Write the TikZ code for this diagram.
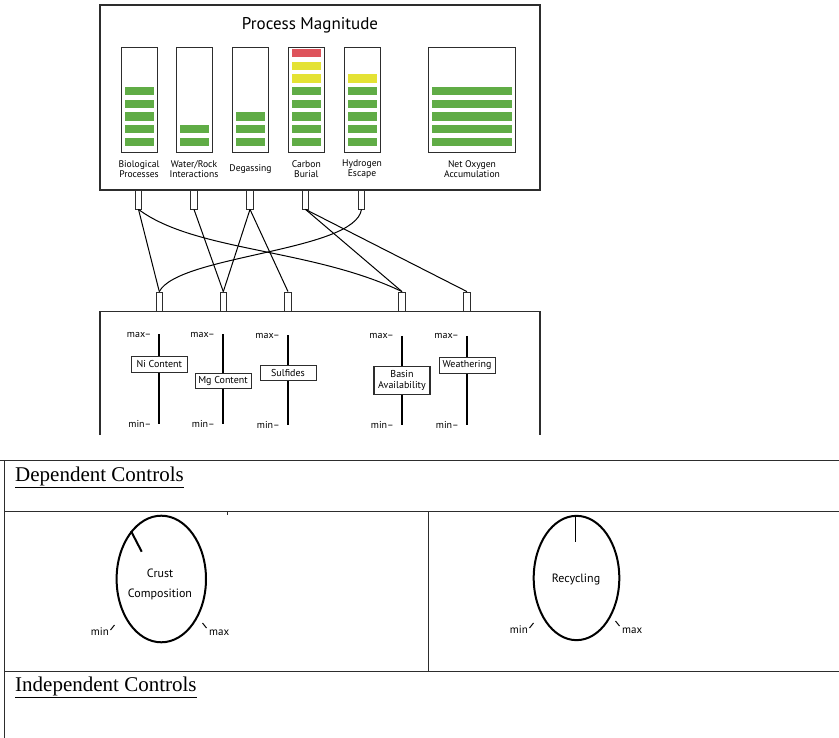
\documentclass[tikz,border=0pt]{standalone}
\usepackage{fontspec}
\setmainfont{Liberation Serif}
\newfontfamily\mys{PT Sans}
\usetikzlibrary{shapes.geometric}
\definecolor{bargreen}{RGB}{96,172,70}
\definecolor{baryellow}{RGB}{228,226,52}
\definecolor{barred}{RGB}{222,84,92}
\definecolor{edge}{RGB}{45,45,45}
\begin{document}
\begin{tikzpicture}[x=1pt,y=-1pt,
  panel/.style={draw=edge,line width=1.3pt},
  meter/.style={draw=edge,line width=0.9pt,inner sep=0,minimum height=105pt},
  tab/.style={draw=edge,fill=white,line width=0.8pt,inner sep=0,minimum width=6.5pt,minimum height=19pt},
  lbl/.style={font=\mys\fontsize{9.6}{10.5}\selectfont,align=center,inner sep=0},
  wire/.style={draw=black,line width=1pt},
  slider/.style={draw=black,line width=1.7pt},
  sbox/.style={draw=edge,fill=white,line width=1pt,inner sep=0,minimum width=56pt,font=\mys\fontsize{10}{10.5}\selectfont,align=center},
  mm/.style={font=\mys\fontsize{10}{10}\selectfont,inner sep=0,anchor=east},
  knob/.style={draw=black,line width=2pt,ellipse,inner sep=0},
  ktext/.style={font=\mys\fontsize{12}{20}\selectfont,align=center,inner sep=0},
  klbl/.style={font=\mys\fontsize{11}{12}\selectfont,inner sep=0},
  tick/.style={draw=black,line width=1pt},
  rule/.style={draw=edge,line width=0.9pt},
  head/.style={font=\fontsize{21}{24}\selectfont,inner sep=0,anchor=base west}]
\useasboundingbox (0,0) rectangle (839,738);

% ---------- top panel ----------
\draw[panel] (100,5) rectangle (540,190);
\node[font=\mys\fontsize{17}{20}\selectfont,inner sep=0] (title) at (310,25) {Process Magnitude};

\node[meter,minimum width=36pt] (m1) at (139,99.5) {};
\node[meter,minimum width=36pt] (m2) at (194,99.5) {};
\node[meter,minimum width=36pt] (m3) at (250.5,99.5) {};
\node[meter,minimum width=36pt] (m4) at (306.3,99.5) {};
\node[meter,minimum width=36pt] (m5) at (362,99.5) {};
\node[meter,minimum width=87.4pt] (m6) at (472,99.5) {};

\foreach \k in {0,...,4} \fill[bargreen] (124.5,137.7-12.67*\k) rectangle (153.5,146-12.67*\k);
\foreach \k in {0,1} \fill[bargreen] (179.5,137.7-12.67*\k) rectangle (208.5,146-12.67*\k);
\foreach \k in {0,1,2} \fill[bargreen] (236,137.7-12.67*\k) rectangle (265,146-12.67*\k);
\foreach \k in {0,...,4} \fill[bargreen] (291.8,137.7-12.67*\k) rectangle (320.8,146-12.67*\k);
\foreach \k in {5,6} \fill[baryellow] (291.8,137.7-12.67*\k) rectangle (320.8,146-12.67*\k);
\fill[barred] (291.8,137.7-12.67*7) rectangle (320.8,146-12.67*7);
\foreach \k in {0,...,4} \fill[bargreen] (347.5,137.7-12.67*\k) rectangle (376.5,146-12.67*\k);
\fill[baryellow] (347.5,137.7-12.67*5) rectangle (376.5,146-12.67*5);
\foreach \k in {0,...,4} \fill[bargreen] (431.7,137.7-12.67*\k) rectangle (512.3,146-12.67*\k);

\node[lbl] (l1) at (139,169.3) {Biological\\Processes};
\node[lbl] (l2) at (194,169.3) {Water/Rock\\Interactions};
\node[lbl] (l3) at (250.5,169.3) {Degassing};
\node[lbl] (l4) at (306.3,169.3) {Carbon\\Burial};
\node[lbl] (l5) at (362,169.3) {Hydrogen\\Escape};
\node[lbl] (l6) at (472,169.3) {Net Oxygen\\Accumulation};

% ---------- tabs ----------
\node[tab] (t1) at (138.5,199.5) {};
\node[tab] (t2) at (194,199.5) {};
\node[tab] (t3) at (250,199.5) {};
\node[tab] (t4) at (305.5,199.5) {};
\node[tab] (t5) at (361.5,199.5) {};

\node[tab] (b1) at (159.3,301.5) {};
\node[tab] (b2) at (223.3,301.5) {};
\node[tab] (b3) at (288,301.5) {};
\node[tab] (b4) at (402,301.5) {};
\node[tab] (b5) at (467,301.5) {};

% ---------- connectors ----------
\draw[wire] (t1.south) -- (b1.north);
\draw[wire] (t1.south) .. controls (195,251.7) and (311.7,248.3) .. (b4.north);
\draw[wire] (t2.south) -- (b2.north);
\draw[wire] (t3.south) -- (b2.north);
\draw[wire] (t3.south) -- (b3.north);
\draw[wire] (t4.south) -- (b4.north);
\draw[wire] (t4.south) -- (b5.north);
\draw[wire] (t5.south) .. controls (355,251.7) and (178.3,255) .. (b1.north);

% ---------- lower panel ----------
\draw[panel] (100,435) -- (100,311.7) -- (540,311.7) -- (540,435);

\coordinate (s1a) at (159.3,334.5); \coordinate (s1b) at (159.3,423.5);
\coordinate (s2a) at (222.8,334.5); \coordinate (s2b) at (222.8,423.5);
\coordinate (s3a) at (287.8,335.5); \coordinate (s3b) at (287.8,425);
\coordinate (s4a) at (401.7,336); \coordinate (s4b) at (401.7,425);
\coordinate (s5a) at (466.7,336); \coordinate (s5b) at (466.7,425);
\draw[slider] (s1a) -- (s1b);
\draw[slider] (s2a) -- (s2b);
\draw[slider] (s3a) -- (s3b);
\draw[slider] (s4a) -- (s4b);
\draw[slider] (s5a) -- (s5b);

\node[sbox,minimum height=15.6pt] (n1) at (159.3,364.5) {Ni Content};
\node[sbox,minimum height=15.7pt] (n2) at (223,381) {Mg Content};
\node[sbox,minimum height=15.3pt] (n3) at (288,373.3) {Sulfides};
\node[sbox,minimum height=27.6pt,line width=1.4pt] (n4) at (402,380.5) {Basin\\Availability};
\node[sbox,minimum height=16pt] (n5) at (467,365.3) {Weathering};

\node[mm] (x1) at (151.5,334.5) {max–};
\node[mm] (y1) at (151.5,423.5) {min–};
\node[mm] (x2) at (215,334.5) {max–};
\node[mm] (y2) at (215,423.5) {min–};
\node[mm] (x3) at (280,335.5) {max–};
\node[mm] (y3) at (280,425) {min–};
\node[mm] (x4) at (394,336) {max–};
\node[mm] (y4) at (394,425) {min–};
\node[mm] (x5) at (459,336) {max–};
\node[mm] (y5) at (459,425) {min–};

% ---------- table ----------
\draw[rule] (0,460) -- (839,460);
\draw[rule] (4.5,460) -- (4.5,738);
\draw[rule] (4.5,511) -- (839,511);
\draw[rule] (4.5,671) -- (839,671);
\draw[rule] (428,511) -- (428,671);
\draw[rule] (227,512) -- (227,515);

\node[head] (dep) at (15,481.5) {\underline{Dependent Controls}};
\node[head] (ind) at (15,691) {\underline{Independent Controls}};

% knob 1
\node[knob,minimum width=89.4pt,minimum height=126.6pt] (k1) at (161.3,579) {};
\node[ktext] (k1t) at (160,584) {Crust\\Composition};
\draw[line width=2pt] (131,531) -- (141.7,551.7);
\node[klbl,anchor=east] (k1min) at (109,632) {min};
\node[klbl,anchor=west] (k1max) at (209,633) {max};
\draw[tick] (110.5,630) -- (114.5,625);
\draw[tick] (202.5,623) -- (206.5,628);

% knob 2
\node[knob,minimum width=85.6pt,minimum height=124.3pt] (k2) at (576.5,578) {};
\node[ktext] (k2t) at (576,580) {Recycling};
\draw[line width=1.5pt] (575.4,516.5) -- (575.4,542.3);
\node[klbl,anchor=east] (k2min) at (528,630) {min};
\node[klbl,anchor=west] (k2max) at (622,631) {max};
\draw[tick] (529.5,628) -- (533.5,623);
\draw[tick] (615.5,621) -- (619.5,626);
\end{tikzpicture}
\end{document}
